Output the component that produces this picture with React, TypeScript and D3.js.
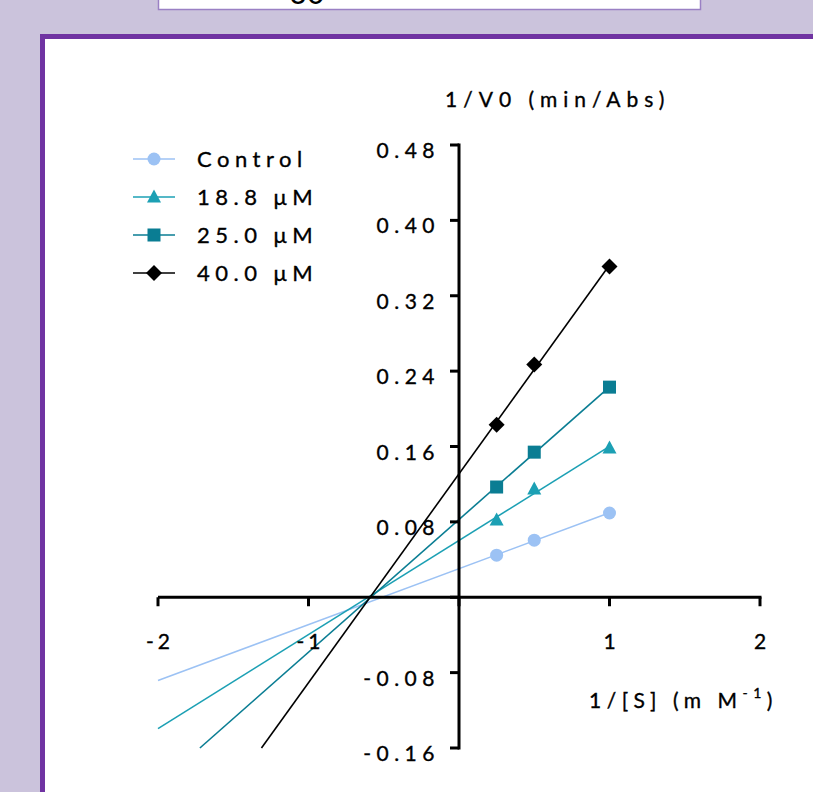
import React from "react";
import * as d3 from "d3";

// substrate concentrations (1/[S], mM^-1)
const invS = [0.25, 0.5, 1];

const seriesNames = ["Control", "18.8 μM", "25.0 μM", "40.0 μM"];
const controlVals = [0.0447, 0.0606, 0.0894];
const c188Vals = [0.082, 0.115, 0.1585];
const c250Vals = [0.117, 0.154, 0.223];
const c400Vals = [0.183, 0.247, 0.351];

const xTicks = [-2, -1, 1, 2];
const xTickMarks = [-2, -1, 0, 1, 2];
const yTicks = [0.48, 0.4, 0.32, 0.24, 0.16, 0.08, -0.08, -0.16];
const yTickMarks = [0.48, 0.4, 0.32, 0.24, 0.16, 0.08, 0, -0.08, -0.16];

const colors = ["#9CC2F4", "#1CA0B4", "#0A7D93", "#000000"];
const shapes = ["circle", "triangle", "square", "diamond"];

const FONT = "Lato, 'Open Sans', sans-serif";

// least squares fit through the points
function fit(xs: number[], ys: number[]) {
  const mx = d3.mean(xs)!;
  const my = d3.mean(ys)!;
  let sxy = 0, sxx = 0;
  xs.forEach((x, i) => {
    sxy += (x - mx) * (ys[i] - my);
    sxx += (x - mx) * (x - mx);
  });
  const m = sxy / sxx;
  return { m, b: my - m * mx };
}

function Marker({ shape, x, y, color }: { shape: string; x: number; y: number; color: string }) {
  if (shape === "circle") return <circle cx={x} cy={y} r={6.5} fill={color} />;
  if (shape === "square") return <rect x={x - 6.5} y={y - 6.5} width={13} height={13} fill={color} />;
  if (shape === "triangle")
    return <path d={`M${x},${y - 7.5} L${x + 7},${y + 5.5} L${x - 7},${y + 5.5} Z`} fill={color} />;
  return <path d={`M${x},${y - 8} L${x + 8},${y} L${x},${y + 8} L${x - 8},${y} Z`} fill={color} />;
}

export default function App() {
  const x = d3.scaleLinear().domain([-2, 2]).range([158, 760]);
  const y = d3.scaleLinear().domain([-0.16, 0.48]).range([748, 145]);

  const series = [controlVals, c188Vals, c250Vals, c400Vals];
  const x0 = x(0);
  const y0 = y(0);

  const line = d3
    .line<[number, number]>()
    .x((d) => x(d[0]))
    .y((d) => y(d[1]));

  const txt = { fill: "#000", stroke: "#000", strokeWidth: 0.35 };

  return (
    <svg
      width={813}
      height={792}
      style={{ position: "absolute", left: 0, top: 0 }}
      fontFamily={FONT}
    >
      <rect x={0} y={0} width={813} height={792} fill="#CBC3DC" />
      {/* slide box above */}
      <rect x={158.5} y={-20} width={542} height={29.5} fill="#fff" stroke="#9A80C4" strokeWidth={1.5} />
      <text x={307} y={4} fontSize={30} textAnchor="middle" fill="#000">30</text>
      {/* frame */}
      <rect x={42.5} y={36.5} width={820} height={800} fill="#fff" stroke="#7033A2" strokeWidth={5} />

      {/* fit lines */}
      {series.map((vals, i) => {
        const { m, b } = fit(invS, vals);
        const xs = Math.max(-2, (-0.16 - b) / m);
        const xe = invS[invS.length - 1];
        return (
          <path
            key={"l" + i}
            d={line([[xs, m * xs + b], [xe, m * xe + b]])!}
            stroke={colors[i]}
            strokeWidth={1.6}
            fill="none"
          />
        );
      })}

      {/* axes */}
      <line x1={x(-2)} x2={x(2) + 1.5} y1={y0} y2={y0} stroke="#000" strokeWidth={3} />
      <line x1={x0} x2={x0} y1={y(0.48) - 1.5} y2={y(-0.16) + 1.5} stroke="#000" strokeWidth={3} />
      {xTickMarks.map((t) => (
        <line key={"xt" + t} x1={x(t)} x2={x(t)} y1={y0} y2={y0 + 9} stroke="#000" strokeWidth={3} />
      ))}
      {yTickMarks.map((t) => (
        <line key={"yt" + t} x1={x0 - 9} x2={x0} y1={y(t)} y2={y(t)} stroke="#000" strokeWidth={3} />
      ))}
      {xTicks.map((t) => (
        <text key={"xl" + t} x={x(t) + 2} y={649} fontSize={21} textAnchor="middle" letterSpacing={4} {...txt}>
          {t}
        </text>
      ))}
      {yTicks.map((t) => (
        <text key={"yl" + t} x={x0 - 19} y={y(t) + 13} fontSize={21} textAnchor="end" letterSpacing={5.5} {...txt}>
          {t.toFixed(2)}
        </text>
      ))}

      {/* axis titles */}
      <text x={445} y={107} fontSize={21} letterSpacing={6} {...txt}>1/V0 (min/Abs)</text>
      <text x={589} y={708} fontSize={21} letterSpacing={5.5} {...txt}>
        1/[S] (m M
        <tspan fontSize={14} dy={-10}>-1</tspan>
        <tspan dy={10}>)</tspan>
      </text>

      {/* markers */}
      {series.map((vals, i) =>
        vals.map((v, j) => (
          <Marker key={"m" + i + "-" + j} shape={shapes[i]} x={x(invS[j])} y={y(v)} color={colors[i]} />
        ))
      )}

      {/* legend */}
      {seriesNames.map((name, i) => {
        const ly = 159 + i * 38;
        return (
          <g key={"lg" + i}>
            <line x1={133} x2={175} y1={ly} y2={ly} stroke={colors[i]} strokeWidth={1.6} />
            <Marker shape={shapes[i]} x={154} y={ly} color={colors[i]} />
            <text x={197} y={ly + 8} fontSize={22} letterSpacing={5.5} {...txt}>{name}</text>
          </g>
        );
      })}
    </svg>
  );
}
